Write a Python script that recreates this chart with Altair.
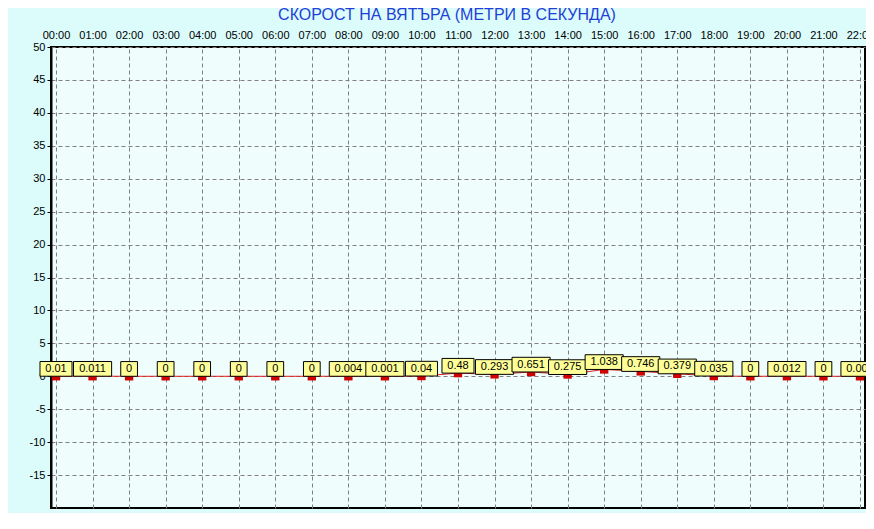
import altair as alt
import pandas as pd

# ---- data ----
hours = ["00:00", "01:00", "02:00", "03:00", "04:00", "05:00", "06:00", "07:00",
         "08:00", "09:00", "10:00", "11:00", "12:00", "13:00", "14:00", "15:00",
         "16:00", "17:00", "18:00", "19:00", "20:00", "21:00", "22:00"]
speeds = [0.01, 0.011, 0, 0, 0, 0, 0, 0, 0.004, 0.001, 0.04, 0.48, 0.293, 0.651,
          0.275, 1.038, 0.746, 0.379, 0.035, 0, 0.012, 0, 0.0004]
labels = ["0.01", "0.011", "0", "0", "0", "0", "0", "0", "0.004", "0.001", "0.04",
          "0.48", "0.293", "0.651", "0.275", "1.038", "0.746", "0.379", "0.035",
          "0", "0.012", "0", "0.000"]
y_major = [50, 45, 40, 35, 30, 25, 20, 15, 10, 5, 0, -5, -10, -15]
title_text = "СКОРОСТ НА ВЯТЪРА (МЕТРИ В СЕКУНДА)"

# ---- layout ----
W, H = 814, 461
XMIN, XMAX = -0.137, 22.137
YMIN, YMAX = -20, 50
PXX = W / (XMAX - XMIN)          # pixels per hour
UPY = (YMAX - YMIN) / H          # y units per pixel
FONT = "Liberation Sans"

df = pd.DataFrame({"idx": list(range(len(hours))), "hour": hours,
                   "speed": speeds, "label": labels})

xscale = alt.Scale(domain=[XMIN, XMAX], nice=False, zero=False)
yscale = alt.Scale(domain=[YMIN, YMAX], nice=False, zero=False)

x_axis = alt.Axis(orient="top", values=list(range(len(hours))),
                  labelExpr="(datum.value < 10 ? '0' : '') + datum.value + ':00'",
                  grid=True, gridColor="#808080", gridDash=[4, 3], gridWidth=1, gridOpacity=1,
                  ticks=False, domain=False, labelFont=FONT,
                  labelFontSize=11, labelColor="black", labelPadding=7,
                  labelFlush=False, labelOverlap=False, title=None)
y_axis = alt.Axis(orient="left", values=y_major, labelExpr="'' + datum.value",
                  grid=True, gridColor="#808080", gridDash=[4, 3], gridWidth=1, gridOpacity=1,
                  domain=True, domainColor="black", domainWidth=2,
                  tickColor="black", tickSize=4,
                  labelFont=FONT, labelFontSize=11, labelColor="black", labelPadding=2,
                  labelOverlap=False, labelFlush=False, title=None)

line = alt.Chart(df).mark_line(color="#e02020", strokeWidth=1).encode(
    x=alt.X("idx:Q", scale=xscale, axis=x_axis),
    y=alt.Y("speed:Q", scale=yscale, axis=y_axis))
markers = alt.Chart(df).mark_square(size=70, color="#d00000", opacity=1).encode(
    x=alt.X("idx:Q", scale=xscale, axis=x_axis),
    y=alt.Y("speed:Q", scale=yscale, axis=y_axis))

boxes = alt.Chart(df).transform_calculate(
    nchar="length(datum.label)",
    nplain="length(replace(datum.label, '.', ''))"
).transform_calculate(
    bw=f"(datum.nplain * 6.12 + (datum.nchar - datum.nplain) * 3.06 + 10.6) / {PXX}"
).transform_calculate(
    bx1="datum.idx - datum.bw / 2", bx2="datum.idx + datum.bw / 2",
    by1="datum.speed", by2=f"datum.speed + 14.7 * {UPY}"
).mark_rect(fill="#ffff99", stroke="black", strokeWidth=1, clip=False).encode(
    x=alt.X("bx1:Q", scale=xscale, axis=x_axis), x2="bx2:Q",
    y=alt.Y("by1:Q", scale=yscale, axis=y_axis), y2="by2:Q")

texts = alt.Chart(df).transform_calculate(
    ty=f"datum.speed + 7.35 * {UPY}"
).mark_text(font=FONT, fontSize=11, color="black", baseline="middle", align="center").encode(
    x=alt.X("idx:Q", scale=xscale, axis=x_axis),
    y=alt.Y("ty:Q", scale=yscale, axis=y_axis),
    text="label:N")

chart = alt.layer(line, markers, boxes, texts).properties(
    width=W, height=H,
    title=alt.TitleParams(title_text, font=FONT, fontSize=16, fontWeight="normal",
                          color="#1f3fd6", anchor="middle", offset=6, dx=-11),
    padding={"left": 43, "top": 39, "right": 1, "bottom": 5},
    autosize=alt.AutoSizeParams(type="none"),
    background="#dcfbfb",
).configure_view(stroke="black", strokeWidth=2, fill="#effdfd")

chart.save("out.html", embed_options={"renderer": "svg", "actions": False})
